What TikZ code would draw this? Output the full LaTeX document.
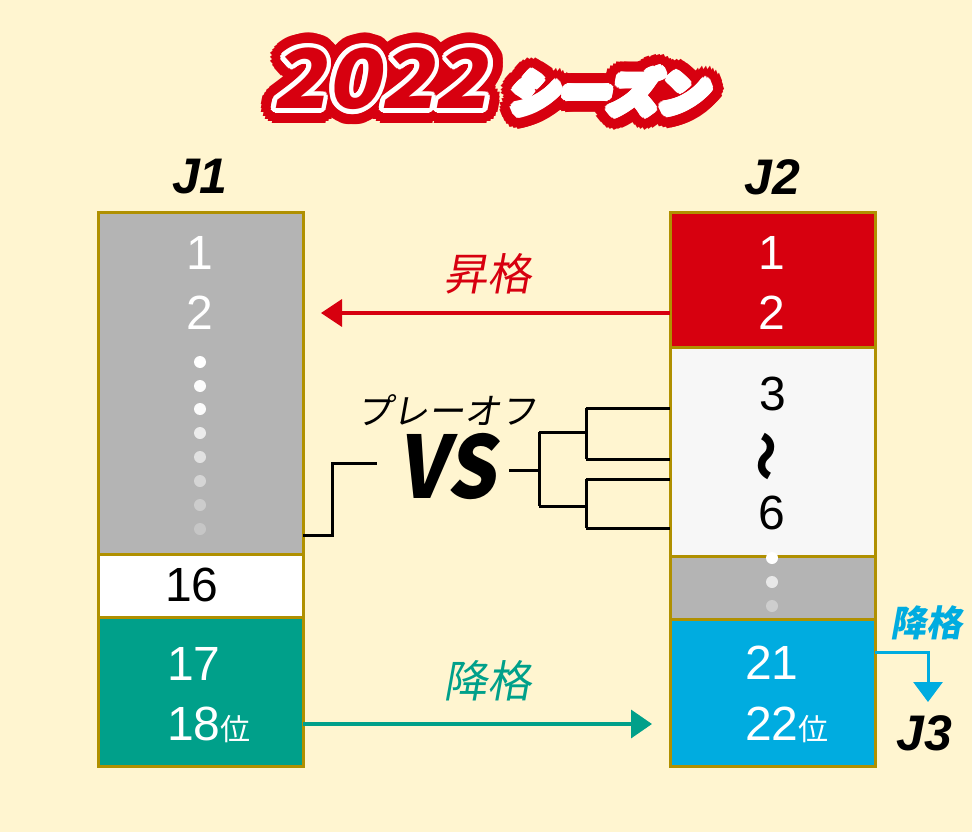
\documentclass[tikz,border=0pt]{standalone}
\usepackage{fontspec}
\setmainfont{Liberation Sans}
\newfontfamily\jp{Noto Sans CJK JP}
\newfontfamily\jpS{Noto Sans CJK JP}[FakeSlant=0.18]
\usetikzlibrary{arrows.meta,calc}
\definecolor{bg}{RGB}{255,245,208}
\definecolor{frame}{RGB}{176,144,0}
\definecolor{jgray}{RGB}{180,180,180}
\definecolor{jred}{RGB}{215,0,15}
\definecolor{jteal}{RGB}{0,160,138}
\definecolor{jblue}{RGB}{0,172,224}
\definecolor{jlight}{RGB}{247,247,247}
\newcommand\fs[1]{\fontsize{#1}{#1}\selectfont}
\newcommand\halotext[3]{%
  \foreach \r in {15,10} {\foreach \a in {0,15,...,345} {\node[text=jred,#2] at ($(#1)+(\a:\r)$) {#3};}}%
  \foreach \r in {4.5,2} {\foreach \a in {0,20,...,340} {\node[text=white,#2] at ($(#1)+(\a:\r)$) {#3};}}%
}
\tikzset{
  box/.style={draw=frame,line width=3pt},
  num/.style={inner sep=0,font=\fs{48}},
  head/.style={inner sep=0,font=\fs{50}\bfseries\itshape},
  dot/.style={circle,fill=white,inner sep=0,minimum size=12pt},
  brk/.style={line width=3pt,black},
  lab/.style={inner sep=0,font=\jpS\fs{44}},
  ttl/.style={inner sep=0,font=\jpS\bfseries\fs{82},xscale=1.08},
  tts/.style={inner sep=0,font=\jpS\bfseries\fs{48},xscale=1.05},
}
\begin{document}
\begin{tikzpicture}[x=1pt,y=-1pt]
\fill[bg] (0,0) rectangle (972,832);
\useasboundingbox (0,0) rectangle (972,832);
% title
\coordinate (t1) at (380,79);
\coordinate (t2) at (608,92);
\halotext{t1}{ttl}{2022}
\halotext{t2}{tts}{シーズン}
\node[ttl,text=jred] (title) at (t1) {2022};
\node[tts,text=white] (season) at (t2) {シーズン};
% headings
\node[head] (h1) at (200,177) {J1};
\node[head] (h2) at (772,177) {J2};
\node[head] (h3) at (924,733) {J3};
% J1 column
\path[box,fill=jgray] (98,212) rectangle (303,554);
\path[box,fill=white] (98,554) rectangle (303,617);
\path[box,fill=jteal] (98,617) rectangle (303,766);
\coordinate (j1top) at (303,535);
\coordinate (j1bot) at (303,724);
\node[num,text=white] (a1) at (200,253) {1};
\node[num,text=white] (a2) at (200,313) {2};
\foreach \y/\o in {362/1,386/0.97,409/0.95,433/0.75,457/0.6,481/0.45,505/0.33,529/0.25}
  \node[dot,fill opacity=\o] at (200,\y) {};
\node[num] (a16) at (192,585) {16};
\node[num,text=white,anchor=west] (a17) at (167,664) {17};
\node[num,text=white,anchor=west] (a18) at (167,725) {18{\jp\fs{30}位}};
% J2 column
\path[box,fill=jred] (670,212) rectangle (875,347);
\path[box,fill=jlight] (670,347) rectangle (875,556);
\path[box,fill=jgray] (670,556) rectangle (875,619);
\path[box,fill=jblue] (670,619) rectangle (875,766);
\node[num,text=white] (b1) at (772,253) {1};
\node[num,text=white] (b2) at (772,313) {2};
\node[num] (b3) at (773,394) {3};
\node[inner sep=0,font=\jp\bfseries\fs{50}] (bw) at (772,456) {\rotatebox{90}{～}};
\node[num] (b6) at (772,513) {6};
\node[dot] at (772,558) {};
\node[dot,fill opacity=0.7] at (772,582) {};
\node[dot,fill opacity=0.35] at (772,606) {};
\node[num,text=white,anchor=west] (b21) at (745,663) {21};
\node[num,text=white,anchor=west] (b22) at (745,725) {22{\jp\fs{30}位}};
% promotion arrow
\coordinate (upS) at (670,313);
\coordinate (upE) at (321,313);
\draw[jred,line width=3.5pt,-{Triangle[length=21pt,width=27pt]}] (upS) -- (upE);
\node[lab,text=jred] (up) at (487,274) {昇格};
% relegation J1->J2
\coordinate (dnE) at (652,724);
\draw[jteal,line width=3.5pt,-{Triangle[length=21pt,width=28pt]}] (j1bot) -- (dnE);
\node[lab,text=jteal] (dn) at (487,681) {降格};
% relegation J2->J3
\coordinate (j2out) at (875,652);
\coordinate (j3in) at (928,702);
\draw[jblue,line width=3pt,-{Triangle[length=20pt,width=29pt]}] (j2out) -| (j3in);
\node[inner sep=0,font=\jpS\bfseries\fs{36},text=jblue] (dn3) at (926,623) {降格};
% playoff
\node[inner sep=0,font=\jpS\fs{36}] (po) at (446,410) {プレーオフ};
\node[inner sep=0,font=\jpS\bfseries\fs{86},xscale=0.9] (vs) at (447,467) {VS};
\coordinate (lk) at (332,463);
\draw[brk] (j1top) -| (lk) -- (377,463);
\coordinate (r0) at (509,470);
\coordinate (r1) at (539,470);
\draw[brk] (r0) -- (r1);
\draw[brk] (539,432) -- (539,506);
\draw[brk] (539,432) -- (586,432);
\draw[brk] (539,506) -- (586,506);
\draw[brk] (586,408) -- (586,459);
\draw[brk] (586,479) -- (586,528);
\foreach \y in {408,459,479,528} \draw[brk] (586,\y) -- (670,\y);
\end{tikzpicture}
\end{document}
